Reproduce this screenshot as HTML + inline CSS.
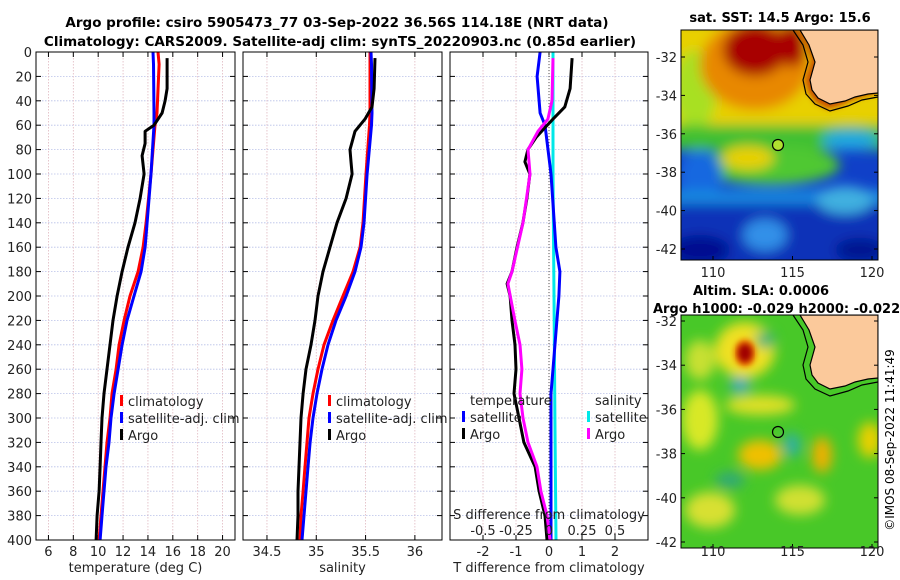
<!DOCTYPE html>
<html><head><meta charset="utf-8"><style>
html,body{margin:0;padding:0;background:#fff;}
svg{display:block;font-family:"DejaVu Sans","Liberation Sans",sans-serif;}
</style></head><body>
<svg id="fig" width="900" height="580" viewBox="0 0 900 580">
<defs>
<filter id="bl" x="-20%" y="-20%" width="140%" height="140%"><feGaussianBlur stdDeviation="6"/></filter>
<filter id="bl2" x="-20%" y="-20%" width="140%" height="140%"><feGaussianBlur stdDeviation="3"/></filter>
<clipPath id="c1"><rect x="681" y="30" width="197" height="230"/></clipPath>
<clipPath id="c2"><rect x="681" y="315" width="197" height="233"/></clipPath>
</defs>
<text x="337" y="27" text-anchor="middle" font-size="13.5" font-weight="bold">Argo profile: csiro 5905473_77 03-Sep-2022 36.56S 114.18E (NRT data)</text>
<text x="340" y="46" text-anchor="middle" font-size="13.5" font-weight="bold">Climatology: CARS2009. Satellite-adj clim: synTS_20220903.nc (0.85d earlier)</text>
<g id="panels"></g>

<!-- SST map -->
<g>
<text x="780" y="22" text-anchor="middle" font-size="13" font-weight="bold">sat. SST: 14.5 Argo: 15.6</text>
<g clip-path="url(#c1)">
<rect x="681" y="30" width="197" height="230" fill="#1040c8"/>
<g filter="url(#bl)">
<rect x="660" y="20" width="240" height="110" fill="#e8d000"/>
<ellipse cx="695" cy="90" rx="22" ry="40" fill="#a8e020"/>
<ellipse cx="755" cy="65" rx="55" ry="45" fill="#e88800"/>
<ellipse cx="755" cy="50" rx="32" ry="26" fill="#a80000"/>
<ellipse cx="792" cy="45" rx="15" ry="22" fill="#a80000"/>
<rect x="660" y="125" width="240" height="25" fill="#40c030"/>
<ellipse cx="770" cy="165" rx="70" ry="20" fill="#50c830"/>
<ellipse cx="748" cy="158" rx="26" ry="12" fill="#e8d000"/>
<ellipse cx="700" cy="175" rx="22" ry="25" fill="#1868e0"/>
<ellipse cx="850" cy="140" rx="28" ry="10" fill="#20a8e0"/>
<rect x="660" y="190" width="240" height="14" fill="#1888e0"/>
<rect x="660" y="204" width="240" height="70" fill="#0830b8"/>
<ellipse cx="765" cy="235" rx="22" ry="16" fill="#3090e8"/>
<ellipse cx="845" cy="200" rx="28" ry="14" fill="#40b0e0"/>
<ellipse cx="700" cy="250" rx="30" ry="15" fill="#001090"/>
<ellipse cx="860" cy="250" rx="25" ry="12" fill="#001890"/>
</g>
<path d="M797,30 L878,30 L878,93 L866,96 L852,100 L840,106 L828,109 L815,102 L808,92 L805,80 L812,60 L805,42 Z" fill="#c85000" stroke="none" filter="url(#bl2)"/>
<path d="M800,30 L878,30 L878,93 L868,94 L855,97 L845,101 L830,104 L818,98 L812,90 L810,80 L815,62 L809,45 Z" fill="#fbc99b" stroke="#000" stroke-width="1.2"/>
<path d="M793,30 L803,45 L808,62 L803,80 L806,94 L815,104 L830,111 L848,106 L862,100 L878,97" fill="none" stroke="#000" stroke-width="1.2"/>
<circle cx="778" cy="145" r="5.5" fill="#b0e030" stroke="#000" stroke-width="1.2"/>
</g>
<rect x="681" y="30" width="197" height="230" fill="none" stroke="#000" stroke-width="1"/>
</g>

<!-- SLA map -->
<g>
<text x="693" y="295" font-size="13" font-weight="bold">Altim. SLA: 0.0006</text>
<text x="653" y="313" font-size="13" font-weight="bold">Argo h1000: -0.029 h2000: -0.022</text>
<g clip-path="url(#c2)">
<rect x="681" y="315" width="197" height="233" fill="#48c828"/>
<g filter="url(#bl)">
<ellipse cx="745" cy="350" rx="30" ry="28" fill="#f0e020"/>
<ellipse cx="700" cy="420" rx="18" ry="30" fill="#d8e828"/>
<ellipse cx="760" cy="405" rx="35" ry="10" fill="#e0e028"/>
<ellipse cx="760" cy="455" rx="22" ry="15" fill="#f0c000"/>
<ellipse cx="822" cy="455" rx="10" ry="18" fill="#f0b000"/>
<ellipse cx="870" cy="440" rx="12" ry="18" fill="#e8d000"/>
<ellipse cx="710" cy="510" rx="25" ry="18" fill="#d8e030"/>
<ellipse cx="800" cy="500" rx="25" ry="15" fill="#d0e030"/>
<ellipse cx="700" cy="360" rx="15" ry="20" fill="#c8e030"/>
<ellipse cx="740" cy="385" rx="10" ry="8" fill="#30a8c0"/>
<ellipse cx="765" cy="340" rx="10" ry="8" fill="#30b080"/>
<ellipse cx="792" cy="445" rx="9" ry="12" fill="#30b0a0"/>
<ellipse cx="730" cy="480" rx="15" ry="8" fill="#30a878"/>
</g>
<ellipse cx="745" cy="353" rx="11" ry="14" fill="#e87000" filter="url(#bl2)"/>
<ellipse cx="745" cy="353" rx="7" ry="9" fill="#a00000" filter="url(#bl2)"/>
<path d="M800,315 L878,315 L878,378 L868,379 L855,382 L845,386 L830,389 L818,383 L812,375 L810,365 L815,347 L809,330 Z" fill="#fbc99b" stroke="#000" stroke-width="1.2"/>
<path d="M793,315 L803,330 L808,347 L803,365 L806,379 L815,389 L830,396 L848,391 L862,385 L878,382" fill="none" stroke="#000" stroke-width="1.2"/>
<circle cx="778" cy="432" r="5.5" fill="none" stroke="#000" stroke-width="1.2"/>
</g>
<rect x="681" y="315" width="197" height="233" fill="none" stroke="#000" stroke-width="1"/>
</g>
<g id="mapaxes"></g>
<text transform="translate(894,440) rotate(-90)" text-anchor="middle" font-size="12">©IMOS 08-Sep-2022 11:41:49</text>
</svg>
<script>
// ---- data ----
const tDepth = [5,30,40,50,60,65,75,85,100,120,140,160,180,200,220,240,260,280,300,320,340,360,380,400];
const tArgo = [15.54,15.54,15.38,15.14,14.49,13.77,13.77,13.53,13.69,13.37,12.96,12.40,11.92,11.52,11.19,10.95,10.71,10.47,10.31,10.23,10.15,10.07,9.91,9.83];
const climDepth = [0,10,50,60,100,140,160,180,200,220,240,260,280,300,320,340,360,380,400];
const tClim = [14.81,14.90,14.73,14.57,14.25,13.85,13.61,13.21,12.56,12.08,11.68,11.44,11.11,10.95,10.71,10.55,10.39,10.23,10.07];
const tSat = [14.41,14.45,14.49,14.49,14.25,13.93,13.77,13.45,12.88,12.32,11.92,11.60,11.28,11.03,10.87,10.63,10.47,10.31,10.15];
const sDepth = [5,30,45,55,65,80,90,100,120,140,160,180,200,220,240,260,280,300,320,340,360,380,400];
const sArgo = [35.596,35.586,35.565,35.494,35.393,35.342,35.352,35.363,35.302,35.210,35.139,35.068,35.018,34.987,34.947,34.896,34.866,34.845,34.835,34.825,34.815,34.815,34.805];
const sClim = [35.545,35.545,35.545,35.540,35.504,35.474,35.444,35.373,35.271,35.170,35.078,35.018,34.967,34.926,34.906,34.886,34.866,34.845,34.835];
const sSat = [35.555,35.560,35.565,35.560,35.515,35.484,35.454,35.393,35.302,35.200,35.119,35.058,35.007,34.967,34.937,34.916,34.896,34.876,34.855];
const dDepth = [5,30,45,55,62,70,80,90,100,120,140,160,180,190,200,220,240,260,280,300,320,340,360,380,400];
const dtArgo = [0.70,0.64,0.48,0.12,-0.12,-0.39,-0.64,-0.73,-0.58,-0.67,-0.79,-0.97,-1.12,-1.27,-1.18,-1.12,-1.03,-1.0,-1.06,-0.91,-0.76,-0.42,-0.30,-0.12,-0.06];
const dsDepth = [5,40,55,65,80,100,140,180,190,220,240,260,280,300,320,340,360,380,400];
const dsArgo = [0.030,0.023,-0.008,-0.083,-0.159,-0.144,-0.197,-0.280,-0.311,-0.258,-0.220,-0.205,-0.220,-0.197,-0.159,-0.091,-0.061,-0.015,0.008];
const dtSatDepth = [0,20,50,60,100,160,180,200,220,260,280,300,400];
const dtSat = [-0.27,-0.36,-0.27,-0.12,0.06,0.21,0.33,0.30,0.24,0.12,0.06,0.06,0.06];
const dsSatDepth = [0,100,200,300,400];
const dsSat = [0.03,0.03,0.038,0.045,0.053];
const depthTicks = [0,20,40,60,80,100,120,140,160,180,200,220,240,260,280,300,320,340,360,380,400];
const tTicks = [6,8,10,12,14,16,18,20];
const sTicks = [34.5,35,35.5,36];
const dtTicks = [-2,-1,0,1,2];
const dsTicks = [-0.5,-0.25,0,0.25,0.5];
const dsTickLabels = ['-0.5','-0.25','0','0.25','0.5'];
const latTicks = [-32,-34,-36,-38,-40,-42];
const lonTicks = [110,115,120];

const NS='http://www.w3.org/2000/svg';
const root=document.getElementById('panels');
function mk(tag,attrs,parent){const e=document.createElementNS(NS,tag);for(const k in attrs)e.setAttribute(k,attrs[k]);(parent||root).appendChild(e);return e;}
const Y0=52,Y1=540;
const yD=d=>Y0+(Y1-Y0)*d/400;
function linear(d0,d1,r0,r1){return v=>r0+(v-d0)*(r1-r0)/(d1-d0);}

const panels=[
 {name:'temperature-panel',x0:36,x1:235,dom:[5,21],ticks:tTicks,labels:tTicks.map(String),xlabel:'temperature (deg C)',ylab:true},
 {name:'salinity-panel',x0:243,x1:442,dom:[34.257,36.275],ticks:sTicks,labels:sTicks.map(String),xlabel:'salinity'},
 {name:'difference-panel',x0:450,x1:648,dom:[-3,3],ticks:dtTicks,labels:dtTicks.map(String),xlabel:'T difference from climatology'}
];
panels.forEach(p=>{
 const g=mk('g',{});
 
 
 p.g=g; p.sx=linear(p.dom[0],p.dom[1],p.x0,p.x1);
 depthTicks.forEach(d=>{
  const l=mk('line',{x1:p.x0,x2:p.x1,y1:yD(d),y2:yD(d),stroke:'#b8c0e8','stroke-width':0.8,'stroke-dasharray':'1.5,1.5'},g);
  
  
  mk('line',{x1:p.x0,x2:p.x0+5,y1:yD(d),y2:yD(d),stroke:'#000'},g);
  mk('line',{x1:p.x1,x2:p.x1-5,y1:yD(d),y2:yD(d),stroke:'#000'},g);
  if(p.ylab){const t=mk('text',{x:p.x0-4,y:yD(d)+5,'text-anchor':'end','font-size':13,fill:'#222'},g);t.textContent=d;
   
   }
 });
 p.ticks.forEach((v,i)=>{
  const x=p.sx(v);
  const l=mk('line',{x1:x,x2:x,y1:Y0,y2:Y1,stroke:'#e0b8c0','stroke-width':0.8,'stroke-dasharray':'1.5,1.5'},g);
  
  
  mk('line',{x1:x,x2:x,y1:Y1,y2:Y1-5,stroke:'#000'},g);
  mk('line',{x1:x,x2:x,y1:Y0,y2:Y0+5,stroke:'#000'},g);
  const t=mk('text',{x:x,y:556,'text-anchor':'middle','font-size':13,fill:'#222'},g);t.textContent=p.labels[i];
  
  
 });
 const xl=mk('text',{x:(p.x0+p.x1)/2,y:572,'text-anchor':'middle','font-size':13,fill:'#222'},g);xl.textContent=p.xlabel;
 
 
});
function line(p,xs,ds,color,w,name,sx){
 const f=sx||p.sx;
 const pts=xs.map((v,i)=>f(v).toFixed(1)+','+yD(ds[i]).toFixed(1)).join(' ');
 const e=mk('polyline',{points:pts,fill:'none',stroke:color,'stroke-width':w,'stroke-linejoin':'round'},p.g);
 
 
}
const P1=panels[0],P2=panels[1],P3=panels[2];
line(P1,tClim,climDepth,'#f00',3,'temperature-climatology-line');
line(P1,tSat,climDepth,'#00f',3,'temperature-satellite-line');
line(P1,tArgo,tDepth,'#000',3,'temperature-argo-line');
line(P2,sClim,climDepth,'#f00',3,'salinity-climatology-line');
line(P2,sSat,climDepth,'#00f',3,'salinity-satellite-line');
line(P2,sArgo,sDepth,'#000',3,'salinity-argo-line');
// diff panel
const sxS=linear(-0.75,0.75,P3.x0,P3.x1);
const zl=mk('line',{x1:P3.sx(0),x2:P3.sx(0),y1:Y0,y2:Y1,stroke:'#555','stroke-width':1,'stroke-dasharray':'1,2'},P3.g);


line(P3,dsSat,dsSatDepth,'#00e8e8',3,'salinity-satellite-diff-line',sxS);
line(P3,dtSat,dtSatDepth,'#0000ff',3,'temperature-satellite-diff-line');
line(P3,dtArgo,dDepth,'#000',3,'temperature-argo-diff-line');
line(P3,dsArgo,dsDepth,'#ff00ff',3,'salinity-argo-diff-line',sxS);
const st=mk('text',{x:549,y:519,'text-anchor':'middle','font-size':13,fill:'#222'},P3.g);st.textContent='S difference from climatology';


dsTicks.forEach((v,i)=>{const t=mk('text',{x:sxS(v),y:535,'text-anchor':'middle','font-size':13,fill:'#222'},P3.g);t.textContent=dsTickLabels[i];
 
 });
panels.forEach(p=>mk('rect',{x:p.x0,y:Y0,width:p.x1-p.x0,height:Y1-Y0,fill:'none',stroke:'#000','stroke-width':1},p.g));
// legends
function leg(g,x,y,color,label,name){
 if(color){mk('rect',{x:x,y:y-11,width:3,height:11,fill:color},g);}
 const t=mk('text',{x:x+8,y:y,'font-size':13,fill:'#222'},g);t.textContent=label;
 
 
}
leg(P1.g,120,406,'#f00','climatology','legend-climatology');
leg(P1.g,120,423,'#00f','satellite-adj. clim','legend-satellite');
leg(P1.g,120,440,'#000','Argo','legend-argo');
leg(P2.g,328,406,'#f00','climatology','legend-climatology');
leg(P2.g,328,423,'#00f','satellite-adj. clim','legend-satellite');
leg(P2.g,328,440,'#000','Argo','legend-argo');
leg(P3.g,462,405,null,'temperature','legend-temperature-heading');
leg(P3.g,462,422,'#00f','satellite','legend-t-satellite');
leg(P3.g,462,439,'#000','Argo','legend-t-argo');
leg(P3.g,587,405,null,'salinity','legend-salinity-heading');
leg(P3.g,587,422,'#00e8e8','satellite','legend-s-satellite');
leg(P3.g,587,439,'#ff00ff','Argo','legend-s-argo');
// map axes
const ma=document.getElementById('mapaxes');
[[30,260,57,249,273],[315,548,321,542,562]].forEach(m=>{
 const ly=linear(-32,-42,m[2],m[3]);
 latTicks.forEach(v=>{const y=ly(v);
  mk('line',{x1:681,x2:685,y1:y,y2:y,stroke:'#000'},ma);mk('line',{x1:878,x2:874,y1:y,y2:y,stroke:'#000'},ma);
  const t=mk('text',{x:677,y:y+5,'text-anchor':'end','font-size':13,fill:'#222'},ma);t.textContent=v;
  
  });
 const lx=linear(110,120,713,872);
 lonTicks.forEach(v=>{const x=lx(v);
  mk('line',{x1:x,x2:x,y1:m[1],y2:m[1]-4,stroke:'#000'},ma);
  const t=mk('text',{x:x,y:m[4]+(m[0]==30?4:-6),'text-anchor':'middle','font-size':13,fill:'#222'},ma);t.textContent=v;
  
  });
});
</script>
</body></html>
